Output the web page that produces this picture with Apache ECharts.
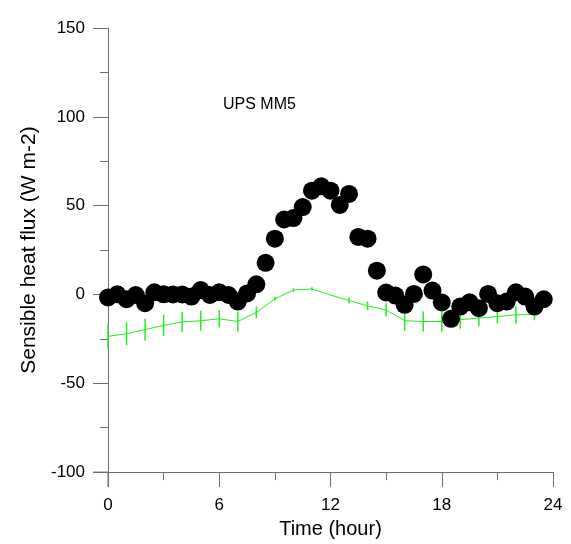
<!DOCTYPE html>
<html>
<head>
<meta charset="utf-8">
<script src="https://cdn.jsdelivr.net/npm/echarts@6/dist/echarts.min.js"></script>
<style>html,body{margin:0;padding:0;background:#fff}#c{width:571px;height:544px}</style>
</head>
<body>
<div id="c"></div>
<script>
// Observed sensible heat flux (half-hourly)
var obsHours = [0,0.5,1,1.5,2,2.5,3,3.5,4,4.5,5,5.5,6,6.5,7,7.5,8,8.5,9,9.5,10,10.5,11,11.5,12,12.5,13,13.5,14,14.5,15,15.5,16,16.5,17,17.5,18,18.5,19,19.5,20,20.5,21,21.5,22,22.5,23,23.5];
var obsValues = [-1.7,0.1,-2.7,-0.3,-4.9,1.2,0.1,0,0,-1.2,2.5,-0.3,1.2,-0.3,-4,0.6,5.7,17.8,31.4,42.2,43,49.2,58.4,60.9,58.4,50.4,56.6,32.4,31.4,13.4,1.1,-0.6,-5.8,0.3,11.3,2.2,-4.5,-13.7,-6.8,-4.4,-7.7,0.3,-4.9,-4,1.2,-1.2,-6.8,-2.7];
// Model (hourly) mean and error half-width
var modHours = [0,1,2,3,4,5,6,7,8,9,10,11,12,13,14,15,16,17,18,19,20,21,22,23];
var modValues = [-23.6,-22.1,-19.8,-17.4,-15.5,-14.8,-13.7,-15.2,-10.1,-2.5,2.5,3.1,-0.3,-3.4,-6.4,-8.7,-14.8,-15.2,-15.2,-14.2,-13.3,-12.4,-11.5,-11.1];
var modErr = [7,6.5,6.1,6,5.7,5.6,4.9,5.6,3.3,1,1,1,0,1.7,2.5,3.7,5.6,5.6,5.6,5.1,4.5,3.9,4.8,3.4];
var xTicks = [0,6,12,18,24];
var yTicks = [-100,-50,0,50,100,150];
var labelText = 'UPS MM5';

var obsData = obsHours.map(function(h,i){return [h,obsValues[i]];});
var modData = modHours.map(function(h,i){return [h,modValues[i]];});
var errData = modHours.map(function(h,i){return [h,modValues[i]-modErr[i],modValues[i]+modErr[i]];});

var FONT = 'Liberation Sans, Arial, sans-serif';
var axisCol = '#6e6e6e';
var green = '#22ee22';
var chart = echarts.init(document.getElementById('c'), null, {renderer:'canvas'});
chart.setOption({
  animation:false,
  backgroundColor:'#ffffff',
  title:{text:labelText,left:218,top:92,textStyle:{fontFamily:FONT,fontSize:16,fontWeight:'normal',color:'#000'}},
  grid:{left:108,right:18,top:28,bottom:69,containLabel:false},
  xAxis:{type:'value',min:xTicks[0],max:xTicks[xTicks.length-1],interval:6,
    name:'Time (hour)',nameLocation:'middle',nameGap:42,
    nameTextStyle:{fontFamily:FONT,fontSize:20,color:'#000'},
    axisLine:{onZero:false,lineStyle:{color:axisCol,width:1}},
    axisTick:{show:true,inside:false,length:15,lineStyle:{color:axisCol}},
    minorTick:{show:true,splitNumber:2,length:8,lineStyle:{color:axisCol}},
    axisLabel:{fontFamily:FONT,fontSize:17,color:'#000',margin:25},
    splitLine:{show:false}},
  yAxis:{type:'value',min:yTicks[0],max:yTicks[yTicks.length-1],interval:50,
    name:'Sensible heat flux (W m-2)',nameLocation:'middle',nameGap:68,
    nameTextStyle:{fontFamily:FONT,fontSize:21,color:'#000'},
    axisLine:{show:true,onZero:false,lineStyle:{color:axisCol,width:1}},
    axisTick:{show:true,inside:false,length:15,lineStyle:{color:axisCol}},
    minorTick:{show:true,splitNumber:2,length:8,lineStyle:{color:axisCol}},
    axisLabel:{fontFamily:FONT,fontSize:17,color:'#000',margin:23},
    splitLine:{show:false}},
  series:[
    {type:'line',data:modData,symbol:'none',lineStyle:{color:green,width:1},z:2},
    {type:'custom',data:errData,z:2,
      renderItem:function(params,api){
        var lo=api.coord([api.value(0),api.value(1)]);
        var hi=api.coord([api.value(0),api.value(2)]);
        return {type:'line',shape:{x1:lo[0],y1:lo[1],x2:hi[0],y2:hi[1]},style:{stroke:green,lineWidth:1.5}};
      },
      encode:{x:0,y:[1,2]}},
    {type:'scatter',data:obsData,symbol:'circle',symbolSize:18,itemStyle:{color:'#000',opacity:1},z:3}
  ]
});
// extend axis lines past their crossing, as in the original frame
var o = chart.convertToPixel({gridIndex:0},[xTicks[0],yTicks[0]]);
chart.setOption({graphic:[
  {type:'line',shape:{x1:o[0]-15,y1:o[1],x2:o[0],y2:o[1]},style:{stroke:axisCol,lineWidth:1}},
  {type:'line',shape:{x1:o[0],y1:o[1],x2:o[0],y2:o[1]+15},style:{stroke:axisCol,lineWidth:1}}
]});
</script>
</body>
</html>
